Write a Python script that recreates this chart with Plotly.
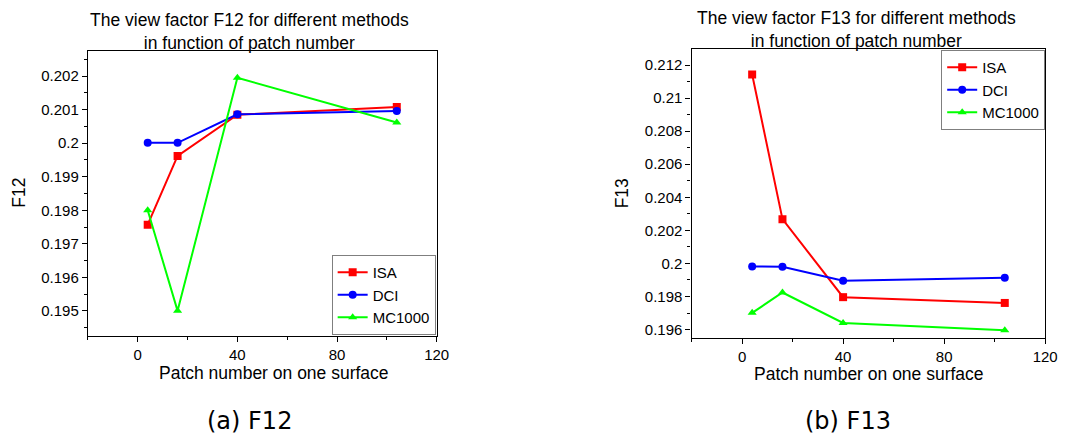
import plotly.graph_objects as go

# ---- data ----
patches = [4, 16, 40, 104]
series_names = ["ISA", "DCI", "MC1000"]
f12_isa = [0.19757, 0.19962, 0.20085, 0.20108]
f12_dci = [0.20001, 0.20001, 0.20086, 0.20096]
f12_mc = [0.19800, 0.19500, 0.20195, 0.20062]
f13_isa = [0.21143, 0.20268, 0.19796, 0.19761]
f13_dci = [0.19982, 0.19980, 0.19895, 0.19913]
f13_mc = [0.19701, 0.19824, 0.19640, 0.19596]
x_ticks = [0, 40, 80, 120]
f12_ticks = [0.195, 0.196, 0.197, 0.198, 0.199, 0.2, 0.201, 0.202]
f12_tick_text = ["0.195", "0.196", "0.197", "0.198", "0.199", "0.2", "0.201", "0.202"]
f13_ticks = [0.196, 0.198, 0.2, 0.202, 0.204, 0.206, 0.208, 0.21, 0.212]
f13_tick_text = ["0.196", "0.198", "0.2", "0.202", "0.204", "0.206", "0.208", "0.21", "0.212"]

colors = ["#ff0000", "#0000ff", "#00ff00"]
symbols = ["square", "circle", "triangle-up"]

W, H = 1074, 441
FONT = "Liberation Sans, Arial, sans-serif"

fig = go.Figure()

left_sets = [f12_isa, f12_dci, f12_mc]
right_sets = [f13_isa, f13_dci, f13_mc]
for i, name in enumerate(series_names):
    fig.add_trace(go.Scatter(
        x=patches, y=left_sets[i], name=name, mode="lines+markers",
        line=dict(color=colors[i], width=2),
        marker=dict(color=colors[i], symbol=symbols[i], size=8),
        xaxis="x", yaxis="y", legend="legend"))
for i, name in enumerate(series_names):
    fig.add_trace(go.Scatter(
        x=patches, y=right_sets[i], name=name, mode="lines+markers",
        line=dict(color=colors[i], width=2),
        marker=dict(color=colors[i], symbol=symbols[i], size=8),
        xaxis="x2", yaxis="y2", legend="legend2"))

# plot-area domains (pixels -> paper)
L = dict(x0=89, x1=442, y0=51, y1=336)
R = dict(x0=700, x1=1058, y0=49, y1=338)

def dom_x(d):
    return [d["x0"] / W, d["x1"] / W]

def dom_y(d):
    return [1 - d["y1"] / H, 1 - d["y0"] / H]

tickfont = dict(family=FONT, size=15, color="black")

def xaxis_main(d, anchor):
    return dict(domain=dom_x(d), anchor=anchor, range=[-20, 120],
                tickvals=x_ticks, ticks="outside", ticklen=5, tickwidth=1,
                tickcolor="black", showline=True, linecolor="black", linewidth=1.3,
                mirror=True, showgrid=False, zeroline=False, tickfont=tickfont,
                minor=dict(dtick=20, tick0=0, ticks="outside", ticklen=3, tickcolor="black"))

def yaxis_main(d, anchor, rng, tv, tt, minor_dtick):
    return dict(domain=dom_y(d), anchor=anchor, range=rng,
                tickvals=tv, ticktext=tt, ticks="outside", ticklen=5, tickwidth=1,
                tickcolor="black", showline=True, linecolor="black", linewidth=1.3,
                mirror=True, showgrid=False, zeroline=False, tickfont=tickfont,
                minor=dict(dtick=minor_dtick, tick0=0.195, ticks="outside", ticklen=3, tickcolor="black"))

def xaxis_top(over, anchor, d):
    return dict(overlaying=over, anchor=anchor, side="top", domain=dom_x(d), range=[-20, 120],
                tickvals=x_ticks, ticks="inside", ticklen=5, tickcolor="black",
                showticklabels=False, showline=False, showgrid=False, zeroline=False,
                minor=dict(dtick=20, tick0=0, ticks="inside", ticklen=3, tickcolor="black"))

def yaxis_right(over, anchor, d, rng, tv, minor_dtick):
    return dict(overlaying=over, anchor=anchor, side="right", domain=dom_y(d), range=rng,
                tickvals=tv, ticks="inside", ticklen=5, tickcolor="black",
                showticklabels=False, showline=False, showgrid=False, zeroline=False,
                minor=dict(dtick=minor_dtick, tick0=0.195, ticks="inside", ticklen=3, tickcolor="black"))

f12_range = [0.19425, 0.20275]
f13_range = [0.19549, 0.21297]

legend_common = dict(bordercolor="#7f7f7f", borderwidth=1, bgcolor="white",
                     font=dict(family=FONT, size=15), itemwidth=30, tracegroupgap=0)

fig.update_layout(
    width=W, height=H, margin=dict(l=0, r=0, t=0, b=0),
    paper_bgcolor="white", plot_bgcolor="white",
    font=dict(family=FONT, color="black"),
    xaxis=xaxis_main(L, "y"),
    yaxis=yaxis_main(L, "x", f12_range, f12_ticks, f12_tick_text, 0.0005),
    xaxis2=xaxis_main(R, "y2"),
    yaxis2=yaxis_main(R, "x2", f13_range, f13_ticks, f13_tick_text, 0.001),
    xaxis3=xaxis_top("x", "y", L),
    yaxis3=yaxis_right("y", "x", L, f12_range, f12_ticks, 0.0005),
    xaxis4=xaxis_top("x2", "y2", R),
    yaxis4=yaxis_right("y2", "x2", R, f13_range, f13_ticks, 0.001),
    legend=dict(x=441 / W, y=1 - 335 / H, xanchor="right", yanchor="bottom", **legend_common),
    legend2=dict(x=1058 / W, y=1 - 50 / H, xanchor="right", yanchor="top", **legend_common),
    showlegend=True,
)

ann = []
def text(x, y, s, size, angle=0, family=FONT):
    ann.append(dict(x=x / W, y=1 - y / H, xref="paper", yref="paper", text=s,
                    showarrow=False, xanchor="center", yanchor="middle",
                    textangle=angle, font=dict(family=family, size=size, color="black")))

text(253, 31, "The view factor F12 for different methods<br>in function of patch number", 17.5)
text(867, 29, "The view factor F13 for different methods<br>in function of patch number", 17.5)
text(277, 373, "Patch number on one surface", 17.5)
text(880, 374, "Patch number on one surface", 17.5)
text(19, 193, "F12", 17.5, angle=-90)
text(630, 193, "F13", 17.5, angle=-90)
cap_font = "DejaVu Sans, sans-serif"
text(253, 421, "(a) F12", 24, family=cap_font)
text(858, 421, "(b) F13", 24, family=cap_font)
fig.update_layout(annotations=ann)

fig.write_html("out.html")
